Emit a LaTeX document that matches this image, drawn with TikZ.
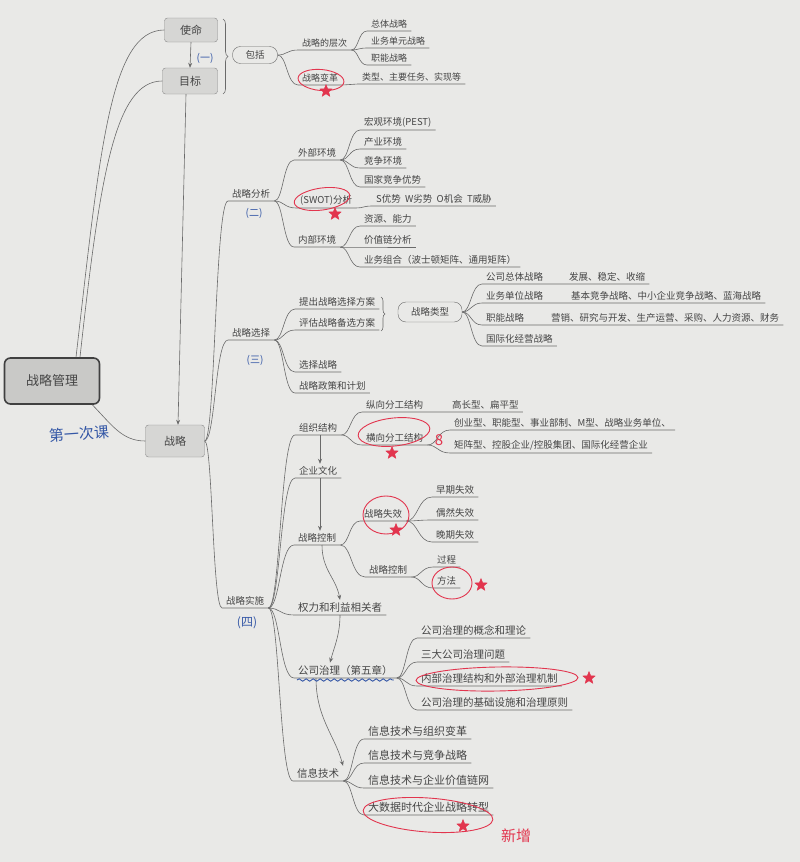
\documentclass[tikz,border=0pt]{standalone}
\usepackage{fontspec}
\setmainfont{Noto Sans CJK SC}
\usetikzlibrary{calc,arrows.meta,shapes.geometric,decorations.pathreplacing,decorations.pathmorphing}
\definecolor{paper}{HTML}{E9E9E7}
\definecolor{ink}{HTML}{454545}
\definecolor{wire}{HTML}{6A6A6A}
\definecolor{boxfill}{HTML}{D6D6D4}
\definecolor{pen}{HTML}{E2354E}
\definecolor{bluepen}{HTML}{3457A6}
\tikzset{
  conn/.style={draw=wire, line width=0.6pt},
  lbl/.style={font=\fontsize{9.5}{11}\selectfont, text=ink, inner xsep=4pt, inner ysep=2.5pt, anchor=south west},
  lbls/.style={lbl, font=\fontsize{9}{10}\selectfont},
  lblb/.style={lbl, font=\fontsize{10.5}{12}\selectfont},
  box/.style={draw=wire!80, fill=boxfill, rounded corners=3pt, font=\fontsize{11}{13}\selectfont, text=ink},
  rootbox/.style={draw=black!75, line width=1.6pt, fill=boxfill!94!black, rounded corners=6pt, font=\fontsize{13}{15}\selectfont, text=ink, minimum width=95pt, minimum height=46pt},
  pill/.style={draw=wire, rounded corners=8pt, font=\fontsize{9.5}{11}\selectfont, text=ink, inner sep=0pt},
  arr/.style={conn, -{Stealth[length=5pt,width=4pt]}},
  ring/.style={draw=pen, line width=0.9pt, ellipse, inner sep=0pt},
  redstar/.style={star, star points=5, star point ratio=2.3, fill=pen, draw=pen, inner sep=0pt, minimum size=13pt},
  bluenote/.style={text=bluepen, font=\fontsize{10}{12}\selectfont},
  bracestyle/.style={conn, decorate, decoration={brace, amplitude=5pt}},
}
\newcommand\mmbranch[2]{\draw[conn] let \p1=(#1), \p2=(#2.south west), \n1={0.45*(\x2-\x1)} in (\p1) .. controls (\x1+\n1,\y1) and (\x1+\n1,\y2) .. (\p2) -- (#2.south east);}
\newcommand\mmbranchd[3]{\draw[conn] let \p1=(#1), \p2=(#2.south west), \n1={0.45*(\x2-\x1)} in (\p1) .. controls (\x1+\n1,\y1) and (\x1+\n1,\y2) .. (\p2) -- (#3.south east);}
\begin{document}
\begin{tikzpicture}[x=1pt,y=-1pt]
\useasboundingbox (0,0) rectangle (800,862);
\fill[paper] (0,0) rectangle (800,862);

% main boxes
\node[rootbox] (root) at (52,381) {战略管理};
\node[box, minimum width=53pt, minimum height=24pt] (sm) at (191,30) {使命};
\node[box, minimum width=55pt, minimum height=26pt] (mb) at (190,81) {目标};
\node[box, minimum width=59pt, minimum height=32pt] (zl) at (175,441) {战略};
\node[pill, minimum width=45pt, minimum height=17pt] (bk) at (255,55) {包括};

\draw[arr] (sm.south) -- (mb.north);
\draw[arr] ([xshift=-4pt]mb.south) -- ([xshift=3pt]zl.north);
\draw[conn] ([xshift=24pt]root.north) .. controls (100,150) and (110,30) .. (sm.west);
\draw[conn] ([xshift=28pt]root.north) .. controls (100,175) and (115,81) .. (mb.west);
\draw[conn] ([xshift=-8pt]root.south east) .. controls (112,425) and (122,441) .. (zl.west);
\draw[bracestyle] (223,19) -- (223,94);

% (一) 包括
\node[lbls] (cl) at (298,50) {战略的层次};
\node[lbls] (bg) at (298,85) {战略变革};
\node[lbls] (bgd) at (358,84) {类型、主要任务、实现等};
\node[lbls] (zt) at (367,31) {总体战略};
\node[lbls] (yw) at (367,48) {业务单元战略};
\node[lbls] (zn) at (367,65) {职能战略};
\mmbranch{bk.east}{cl}
\mmbranch{bk.east}{bg}
\mmbranch{bg.south east}{bgd}
\mmbranch{cl.south east}{zt}
\mmbranch{cl.south east}{yw}
\mmbranch{cl.south east}{zn}

% level-1 sections
\node[lbl] (fx) at (228,201) {战略分析};
\node[lbl] (xz) at (228,340) {战略选择};
\node[lbl] (ss) at (222,608) {战略实施};
\mmbranch{zl.east}{fx}
\mmbranch{zl.east}{xz}
\mmbranch{zl.east}{ss}

% (二) 战略分析
\node[lbl] (wb) at (294,160) {外部环境};
\node[lbl] (swot) at (296,208) {(SWOT)分析};
\node[lbl] (nb) at (294,247) {内部环境};
\mmbranch{fx.south east}{wb}
\mmbranch{fx.south east}{swot}
\mmbranch{fx.south east}{nb}
\node[lbl] (c1) at (360,130) {宏观环境(PEST)};
\node[lbl] (c2) at (360,149) {产业环境};
\node[lbl] (c3) at (360,168) {竞争环境};
\node[lbl] (c4) at (360,187) {国家竞争优势};
\mmbranch{wb.south east}{c1}
\mmbranch{wb.south east}{c2}
\mmbranch{wb.south east}{c3}
\mmbranch{wb.south east}{c4}
\node[lbl] (swd) at (372,206) {S优势\ \ W劣势\ \ O机会\ \ T威胁};
\mmbranch{swot.south east}{swd}
\node[lbl] (n1) at (360,226) {资源、能力};
\node[lbl] (n2) at (360,247) {价值链分析};
\node[lbl] (n3) at (360,267) {业务组合（波士顿矩阵、通用矩阵）};
\mmbranch{nb.south east}{n1}
\mmbranch{nb.south east}{n2}
\mmbranch{nb.south east}{n3}

% (三) 战略选择
\node[lbl] (x1) at (295,309) {提出战略选择方案};
\node[lbl] (x2) at (295,330) {评估战略备选方案};
\node[lbl] (x3) at (295,372) {选择战略};
\node[lbl] (x4) at (295,393) {战略政策和计划};
\mmbranch{xz.south east}{x1}
\mmbranch{xz.south east}{x2}
\mmbranch{xz.south east}{x3}
\mmbranch{xz.south east}{x4}
\draw[bracestyle, decoration={brace, amplitude=4pt}] (381,297) -- (381,331);
\node[pill, minimum width=64pt, minimum height=20pt] (lx) at (430,312) {战略类型};
\node[lbl] (l1) at (482,284) {公司总体战略};
\node[lbl] (l1d) at (565,284) {发展、稳定、收缩};
\node[lbl] (l2) at (482,303) {业务单位战略};
\node[lbl] (l2d) at (567,303) {基本竞争战略、中小企业竞争战略、蓝海战略};
\node[lbl] (l3) at (482,325) {职能战略};
\node[lbl] (l3d) at (547,325) {营销、研究与开发、生产运营、采购、人力资源、财务};
\node[lbl] (l4) at (482,346) {国际化经营战略};
\mmbranchd{lx.east}{l1}{l1d}
\mmbranchd{lx.east}{l2}{l2d}
\mmbranchd{lx.east}{l3}{l3d}
\mmbranch{lx.east}{l4}

% (四) 战略实施
\node[lbl] (s1) at (295,435) {组织结构};
\node[lbl] (s2) at (295,478) {企业文化};
\node[lbl] (s3) at (294,545) {战略控制};
\node[lblb] (s4) at (294,615) {权力和利益相关者};
\node[lblb] (s5) at (294,678) {公司治理（第五章）};
\node[lblb] (s6) at (293,781) {信息技术};
\mmbranch{ss.south east}{s1}
\mmbranch{ss.south east}{s2}
\mmbranch{ss.south east}{s3}
\mmbranch{ss.south east}{s4}
\mmbranch{ss.south east}{s5}
\mmbranch{ss.south east}{s6}
\draw[arr] ($(s1.south west)+(25,0)$) -- ($(s2.north west)+(25,0)$);
\draw[arr] ($(s2.south west)+(25,0)$) -- ($(s3.north west)+(26,0)$);
\draw[arr] ($(s3.south west)+(28,0)$) .. controls +(0,25) and +(-4,-22) .. ($(s4.north west)+(46,0)$);
\draw[arr] ($(s4.south west)+(46,0)$) .. controls +(0,20) and +(4,-15) .. ($(s5.north west)+(36,0)$);
\draw[arr] ($(s5.south west)+(22,0)$) .. controls +(0,40) and +(-8,-30) .. ($(s6.north west)+(50,0)$);

\node[lbl] (z1) at (362,412) {纵向分工结构};
\node[lbl] (z1d) at (448,412) {高长型、扁平型};
\node[lbl] (z2) at (362,445) {横向分工结构};
\mmbranchd{s1.south east}{z1}{z1d}
\mmbranch{s1.south east}{z2}
\node[lbl] (h1) at (450,430) {创业型、职能型、事业部制、M型、战略业务单位、};
\node[lbl] (h2) at (450,453) {矩阵型、控股企业/控股集团、国际化经营企业};
\mmbranch{z2.south east}{h1}
\mmbranch{z2.south east}{h2}

\node[lbl] (k1) at (360,521) {战略失效};
\node[lbl] (k2) at (365,577) {战略控制};
\mmbranch{s3.south east}{k1}
\mmbranch{s3.south east}{k2}
\node[lbl] (k11) at (432,497) {早期失效};
\node[lbl] (k12) at (432,520) {偶然失效};
\node[lbl] (k13) at (432,542) {晚期失效};
\mmbranch{k1.south east}{k11}
\mmbranch{k1.south east}{k12}
\mmbranch{k1.south east}{k13}
\node[lbl] (k21) at (433,567) {过程};
\node[lbl] (k22) at (433,588) {方法};
\mmbranch{k2.south east}{k21}
\mmbranch{k2.south east}{k22}

\node[lblb] (g1) at (417,638) {公司治理的概念和理论};
\node[lblb] (g2) at (417,662) {三大公司治理问题};
\node[lblb] (g3) at (417,686) {内部治理结构和外部治理机制};
\node[lblb] (g4) at (417,710) {公司治理的基础设施和治理原则};
\mmbranch{s5.south east}{g1}
\mmbranch{s5.south east}{g2}
\mmbranch{s5.south east}{g3}
\mmbranch{s5.south east}{g4}

\node[lblb, font=\fontsize{11}{13}\selectfont] (i1) at (364,739) {信息技术与组织变革};
\node[lblb, font=\fontsize{11}{13}\selectfont] (i2) at (364,763) {信息技术与竞争战略};
\node[lblb, font=\fontsize{11}{13}\selectfont] (i3) at (364,788) {信息技术与企业价值链网};
\node[lblb, font=\fontsize{11}{13}\selectfont] (i4) at (364,815) {大数据时代企业战略转型};
\mmbranch{s6.south east}{i1}
\mmbranch{s6.south east}{i2}
\mmbranch{s6.south east}{i3}
\mmbranch{s6.south east}{i4}

% blue handwritten notes
\node[bluenote] (b1) at (205,58) {(一)};
\node[bluenote] (b2) at (254,213) {(二)};
\node[bluenote] (b3) at (255,360) {(三)};
\node[bluenote, font=\fontsize{12}{14}\selectfont] (b4) at (247,623) {(四)};
\node[bluenote, font=\fontsize{15}{17}\selectfont, rotate=4] (b5) at (79,434) {第一次课};
\draw[bluepen, line width=0.9pt, decorate, decoration={snake, amplitude=1.2pt, segment length=7pt}] ($(s5.south west)+(3,2)$) -- ($(s5.south east)+(-3,2)$);

% red handwritten marks
\node[ring, minimum width=46pt, minimum height=21pt, rotate=-5] (r1) at (321,80) {};
\node[redstar] (st1) at (326,91) {};
\node[ring, minimum width=56pt, minimum height=22pt, rotate=8] (r2) at (322,199) {};
\node[redstar] (st2) at (335,214) {};
\node[ring, minimum width=72pt, minimum height=28pt, rotate=6] (r3) at (394,432) {};
\node[redstar] (st3) at (392,453) {};
\node[text=pen, font=\fontsize{15}{15}\selectfont] (eight) at (439,440) {8};
\node[ring, minimum width=46pt, minimum height=38pt] (r4) at (386,515) {};
\node[redstar] (st4) at (396,530) {};
\node[ring, minimum width=40pt, minimum height=32pt] (r5) at (452,583) {};
\node[redstar] (st5) at (481,585) {};
\node[ring, minimum width=162pt, minimum height=24pt, rotate=1] (r6) at (497,679) {};
\node[redstar] (st6) at (589,678) {};
\node[ring, minimum width=130pt, minimum height=34pt, rotate=-4] (r7) at (428,815) {};
\node[redstar] (st7) at (463,826) {};
\node[text=pen, font=\fontsize{15}{17}\selectfont] (xzeng) at (516,836) {新增};
\end{tikzpicture}
\end{document}
